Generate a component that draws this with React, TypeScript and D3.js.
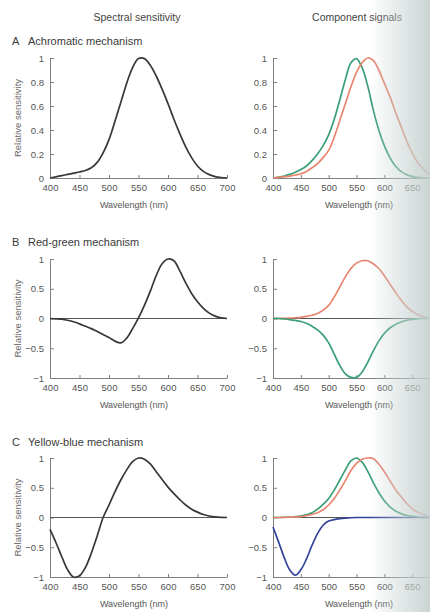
import React, { useEffect, useRef } from 'react';
import * as d3 from 'd3';

// wavelength grid (nm) shared by every curve
const wavelengths = [400, 410, 420, 430, 440, 450, 460, 470, 480, 490, 500, 510, 520, 530, 540, 550, 560, 570, 580, 590, 600, 610, 620, 630, 640, 650, 660, 670, 680, 690, 700];

// A: achromatic mechanism + its component signals (M, L)
const achromatic = [0, 0.01, 0.02, 0.03, 0.04, 0.05, 0.062, 0.085, 0.13, 0.21, 0.32, 0.47, 0.63, 0.79, 0.92, 0.995, 0.995, 0.94, 0.85, 0.74, 0.62, 0.49, 0.37, 0.26, 0.17, 0.1, 0.055, 0.028, 0.012, 0.004, 0];
const achroM = [0, 0.008, 0.017, 0.03, 0.048, 0.07, 0.1, 0.145, 0.2, 0.27, 0.36, 0.49, 0.65, 0.82, 0.96, 0.995, 0.92, 0.77, 0.57, 0.4, 0.27, 0.17, 0.1, 0.055, 0.028, 0.012, 0.005, 0.002, 0, 0, 0];
const achroL = [0, 0.005, 0.01, 0.015, 0.025, 0.035, 0.055, 0.085, 0.12, 0.17, 0.23, 0.34, 0.48, 0.62, 0.76, 0.88, 0.96, 1.0, 0.98, 0.9, 0.79, 0.68, 0.55, 0.43, 0.31, 0.21, 0.13, 0.075, 0.035, 0.012, 0];

// B: red-green mechanism + components (L positive, M negative)
const redGreen = [0, -0.005, -0.012, -0.03, -0.055, -0.09, -0.13, -0.17, -0.22, -0.27, -0.32, -0.38, -0.41, -0.33, -0.17, 0.01, 0.22, 0.46, 0.72, 0.92, 1.0, 0.97, 0.8, 0.6, 0.42, 0.28, 0.17, 0.09, 0.04, 0.012, 0];
const rgL = [0, 0, 0.004, 0.008, 0.013, 0.02, 0.035, 0.055, 0.085, 0.14, 0.22, 0.36, 0.53, 0.7, 0.84, 0.93, 0.97, 0.97, 0.92, 0.84, 0.72, 0.58, 0.44, 0.31, 0.2, 0.12, 0.065, 0.03, 0.012, 0.004, 0];
const rgM = [0, 0, -0.008, -0.018, -0.032, -0.05, -0.08, -0.13, -0.19, -0.28, -0.41, -0.6, -0.79, -0.93, -0.99, -0.99, -0.9, -0.74, -0.55, -0.38, -0.25, -0.16, -0.1, -0.06, -0.03, -0.015, -0.005, 0, 0, 0, 0];

// C: yellow-blue mechanism + components (M, L positive, S negative)
const yellowBlue = [-0.2, -0.42, -0.66, -0.88, -1.0, -0.98, -0.84, -0.6, -0.31, 0.0, 0.21, 0.43, 0.63, 0.8, 0.94, 1.0, 0.98, 0.9, 0.77, 0.64, 0.51, 0.4, 0.3, 0.21, 0.14, 0.09, 0.05, 0.025, 0.01, 0.003, 0];
const ybM = [0, 0, 0.004, 0.008, 0.014, 0.025, 0.045, 0.08, 0.14, 0.22, 0.32, 0.46, 0.63, 0.8, 0.95, 1.0, 0.93, 0.78, 0.59, 0.42, 0.28, 0.18, 0.11, 0.065, 0.035, 0.018, 0.008, 0.003, 0, 0, 0];
const ybL = [0, 0, 0.003, 0.006, 0.01, 0.015, 0.03, 0.05, 0.08, 0.13, 0.21, 0.32, 0.46, 0.62, 0.79, 0.91, 0.98, 1.0, 0.99, 0.9, 0.77, 0.62, 0.47, 0.35, 0.24, 0.15, 0.09, 0.05, 0.025, 0.008, 0];
const ybS = [-0.16, -0.41, -0.67, -0.88, -0.97, -0.88, -0.7, -0.47, -0.27, -0.13, -0.06, -0.035, -0.02, -0.01, -0.004, 0, 0, 0, 0, 0, 0, 0, 0, 0, 0, 0, 0, 0, 0, 0, 0];

const xTicks = [400, 450, 500, 550, 600, 650, 700];
const unipolarTicks = [0, 0.2, 0.4, 0.6, 0.8, 1];
const bipolarTicks = [-1, -0.5, 0, 0.5, 1];

const INK = '#383838';
const GREEN = '#3a9e76';
const RED = '#e8856f';
const BLUE = '#34449a';
const AXIS = '#808080';
const TEXT = '#555';
const FONT = "'Liberation Sans', Arial, sans-serif";

const App = () => {
  const svgRef = useRef(null);

  useEffect(() => {
    const svg = d3.select(svgRef.current);
    svg.selectAll('*').remove();

    const rows = [
      { letter: 'A', name: 'Achromatic mechanism', titleY: 45, top: 58, bottom: 178, domain: [0, 1], ticks: unipolarTicks, zero: false,
        left: [{ v: achromatic, c: INK }], right: [{ v: achroM, c: GREEN }, { v: achroL, c: RED }] },
      { letter: 'B', name: 'Red-green mechanism', titleY: 246, top: 259, bottom: 378, domain: [-1, 1], ticks: bipolarTicks, zero: true,
        left: [{ v: redGreen, c: INK }], right: [{ v: rgL, c: RED }, { v: rgM, c: GREEN }] },
      { letter: 'C', name: 'Yellow-blue mechanism', titleY: 446, top: 458, bottom: 577, domain: [-1, 1], ticks: bipolarTicks, zero: true,
        left: [{ v: yellowBlue, c: INK }], right: [{ v: ybM, c: GREEN }, { v: ybL, c: RED }, { v: ybS, c: BLUE }] },
    ];
    const cols = [
      { key: 'left', x0: 50, x1: 227, ylabel: true, wlX: 134 },
      { key: 'right', x0: 273, x1: 440, ylabel: false, wlX: 359 },
    ];

    // column headers
    svg.append('text').attr('x', 137).attr('y', 21).attr('text-anchor', 'middle')
      .attr('font-size', 10.5).attr('fill', '#444').attr('font-family', FONT).text('Spectral sensitivity');
    svg.append('text').attr('x', 357).attr('y', 21).attr('text-anchor', 'middle')
      .attr('font-size', 10.5).attr('fill', '#444').attr('font-family', FONT).text('Component signals');

    rows.forEach(row => {
      svg.append('text').attr('x', 12).attr('y', row.titleY)
        .attr('font-size', 11).attr('fill', '#3a3a3a').attr('font-family', FONT).text(row.letter);
      svg.append('text').attr('x', 28).attr('y', row.titleY)
        .attr('font-size', 11).attr('fill', '#3a3a3a').attr('font-family', FONT).text(row.name);

      cols.forEach(col => {
        const x = d3.scaleLinear().domain([400, 700]).range([col.x0, col.x1]);
        const y = d3.scaleLinear().domain(row.domain).range([row.bottom, row.top]);
        const g = svg.append('g');

        // y axis, ticks pointing inward
        const ya = g.append('g').attr('transform', `translate(${col.x0},0)`)
          .call(d3.axisLeft(y).tickValues(row.ticks).tickFormat(d3.format('~g'))
            .tickSizeInner(-4).tickSizeOuter(0).tickPadding(6));
        // x axis at bottom of the range
        const xa = g.append('g').attr('transform', `translate(0,${row.bottom})`)
          .call(d3.axisBottom(x).tickValues(xTicks).tickFormat(d3.format('d'))
            .tickSizeInner(-3).tickSizeOuter(0).tickPadding(6));
        [ya, xa].forEach(a => {
          a.select('.domain').attr('stroke', AXIS);
          a.selectAll('.tick line').attr('stroke', AXIS);
          a.selectAll('text').attr('fill', TEXT).attr('font-size', 9.5).attr('font-family', FONT);
        });

        if (row.zero) {
          g.append('line').attr('x1', x(400)).attr('x2', x(700)).attr('y1', y(0)).attr('y2', y(0))
            .attr('stroke', '#555').attr('stroke-width', 1);
        }

        const line = d3.line()
          .x((d, i) => x(wavelengths[i]))
          .y(d => y(d))
          .curve(d3.curveCatmullRom.alpha(0.5));

        row[col.key].forEach(s => {
          g.append('path').attr('d', line(s.v)).attr('fill', 'none')
            .attr('stroke', s.c).attr('stroke-width', 1.7);
        });

        g.append('text').attr('x', col.wlX).attr('y', row.bottom + 30).attr('text-anchor', 'middle')
          .attr('font-size', 9).attr('fill', TEXT).attr('font-family', FONT).text('Wavelength (nm)');

        if (col.ylabel) {
          g.append('text')
            .attr('transform', `translate(18,${(row.top + row.bottom) / 2}) rotate(-90)`)
            .attr('text-anchor', 'middle').attr('dominant-baseline', 'middle')
            .attr('font-size', 9.5).attr('fill', '#6a6a6a').attr('font-family', FONT)
            .text('Relative sensitivity');
        }
      });
    });

    // page shadow near the binding on the right edge
    const defs = svg.append('defs');
    const grad = defs.append('linearGradient').attr('id', 'binding-shade')
      .attr('x1', '0%').attr('y1', '0%').attr('x2', '100%').attr('y2', '0%');
    grad.append('stop').attr('offset', 0).attr('stop-color', '#c9d4d3').attr('stop-opacity', 0);
    grad.append('stop').attr('offset', 0.45).attr('stop-color', '#c9d4d3').attr('stop-opacity', 0.45);
    grad.append('stop').attr('offset', 1).attr('stop-color', '#c4cfce').attr('stop-opacity', 0.9);
    svg.append('rect').attr('x', 370).attr('y', 0).attr('width', 60).attr('height', 612)
      .attr('fill', 'url(#binding-shade)');
  });

  return (
    <svg ref={svgRef} width={430} height={612}
      style={{ position: 'absolute', left: 0, top: 0, background: '#fff' }}></svg>
  );
};

export default App;
